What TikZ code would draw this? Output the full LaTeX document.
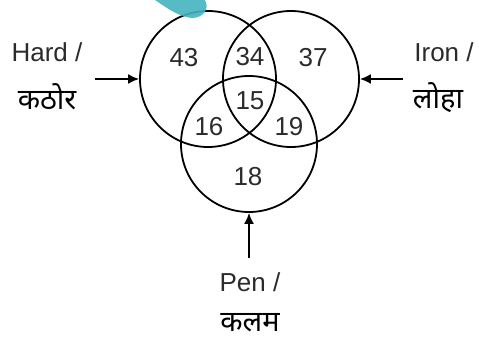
\documentclass[tikz,border=0pt]{standalone}
\usepackage{fontspec}
\setmainfont{Liberation Sans}
\newfontfamily\deva[Script=Devanagari]{Noto Sans}
\usetikzlibrary{arrows.meta}
\definecolor{txtgray}{HTML}{2B2B2B}
\definecolor{blobteal}{HTML}{45B4BF}
\tikzset{
  setcircle/.style={circle, draw, line width=1.8pt, minimum size=136pt, inner sep=0pt},
  num/.style={text=txtgray, font=\fontsize{26}{30}\selectfont},
  lbl/.style={text=txtgray, font=\fontsize{26}{30}\selectfont},
  hin/.style={inner sep=0pt, font=\fontsize{29}{34}\selectfont\deva},
  pointer/.style={-{Latex[length=11pt,width=10pt]}, line width=1.8pt}
}
\begin{document}
\begin{tikzpicture}[x=1pt,y=-1pt]
        \useasboundingbox (0,0) rectangle (479,339);
        % the three sets
        \node[setcircle] (hard) at (208,79) {};
        \node[setcircle] (iron) at (291,79) {};
        \node[setcircle] (pen) at (249,144) {};
        % region counts
        \node[num] (nhard) at (184,58) {43};
        \node[num] (nhi) at (250,57) {34};
        \node[num] (niron) at (313,58) {37};
        \node[num] (nhp) at (209,127) {16};
        \node[num] (nall) at (250,101) {15};
        \node[num] (nip) at (289,127) {19};
        \node[num] (npen) at (248,177) {18};
        % labels
        \node[lbl] (hardtxt) at (47,52) {Hard /};
        \node[hin] (hardhin) at (47,97) {कठोर};
        \node[lbl] (irontxt) at (444,52) {Iron /};
        \node[hin] (ironhin) at (438,98) {लोहा};
        \node[lbl] (pentxt) at (250,282) {Pen /};
        \node[hin] (penhin) at (250,323) {कलम};
        % pointers
        \coordinate (hardtail) at (95,79);
        \coordinate (irontail) at (403,79);
        \coordinate (pentail) at (249,258);
        \draw[pointer] (hardtail) -- (hard.west);
        \draw[pointer] (irontail) -- (iron.east);
        \draw[pointer] (pentail) -- (pen.south);
        % teal mark at the top
        \fill[blobteal, opacity=0.9] (155,0) -- (205,0) .. controls (210,9) and (203,18) .. (192,18) .. controls (180,17) and (168,9) .. (155,0);
    \end{tikzpicture}
\end{document}
